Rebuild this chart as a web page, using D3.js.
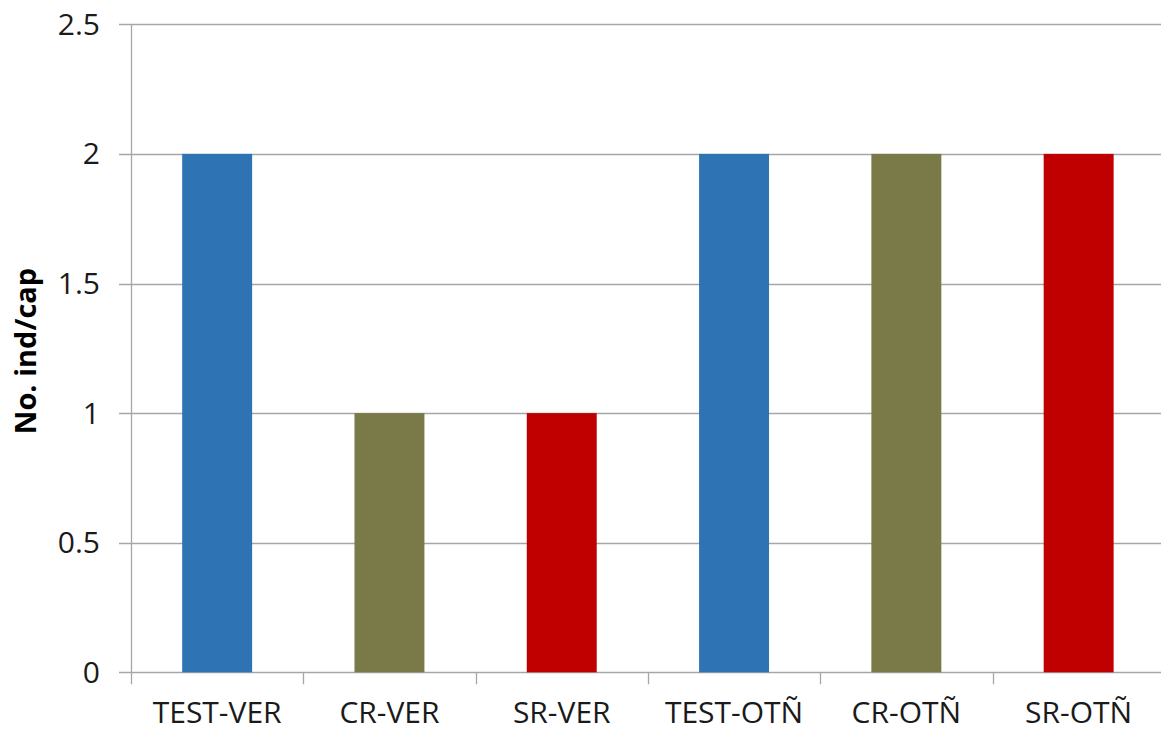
<!DOCTYPE html>
<html>
<head>
<meta charset="utf-8">
<script src="https://cdn.jsdelivr.net/npm/d3@7"></script>
<style>
  html, body { margin: 0; padding: 0; background: #fff; }
  svg { display: block; }
</style>
</head>
<body>
<svg id="chart" width="1161" height="732"></svg>
<script>
const categories = ["TEST-VER", "CR-VER", "SR-VER", "TEST-OTÑ", "CR-OTÑ", "SR-OTÑ"];
const values = [2, 1, 1, 2, 2, 2];
const barColors = ["#2E74B5", "#7A7A48", "#C00000", "#2E74B5", "#7A7A48", "#C00000"];
const yTicks = [0, 0.5, 1, 1.5, 2, 2.5];
const yLabel = "No. ind/cap";

(function () {
const svg = d3.select("#chart");
const pLeft = 131, pRight = 131 + 6 * 172.3, pTop = 24.3, pBottom = 672.3;
const font = "'Open Sans', 'Noto Sans', sans-serif";

const x = d3.scaleBand().domain(categories).range([pLeft, pRight]).paddingInner(0.594).paddingOuter(0.297);
const y = d3.scaleLinear().domain([0, 2.5]).range([pBottom, pTop]);

// gridlines
svg.append("g").selectAll("line").data(yTicks).join("line")
  .attr("x1", 119).attr("x2", pRight)
  .attr("y1", d => Math.round(y(d)) + 0.5).attr("y2", d => Math.round(y(d)) + 0.5)
  .attr("stroke", "#a6a6a6").attr("stroke-width", 1.3);

// bars
svg.append("g").selectAll("rect").data(values).join("rect")
  .attr("x", (d, i) => x(categories[i]))
  .attr("width", x.bandwidth())
  .attr("y", d => y(d))
  .attr("height", d => y(0) - y(d))
  .attr("fill", (d, i) => barColors[i]);

// y axis line
svg.append("line")
  .attr("x1", pLeft + 0.5).attr("x2", pLeft + 0.5)
  .attr("y1", pTop).attr("y2", pBottom)
  .attr("stroke", "#a6a6a6").attr("stroke-width", 1.3);

// x axis ticks (band boundaries)
const bounds = d3.range(categories.length + 1).map(i => pLeft + i * x.step());
svg.append("g").selectAll("line").data(bounds).join("line")
  .attr("x1", d => Math.round(d) + 0.5).attr("x2", d => Math.round(d) + 0.5)
  .attr("y1", pBottom).attr("y2", pBottom + 12)
  .attr("stroke", "#a6a6a6").attr("stroke-width", 1.3);

// y tick labels
svg.append("g").selectAll("text").data(yTicks).join("text")
  .attr("x", 100).attr("y", d => y(d))
  .attr("dy", "0.35em")
  .attr("text-anchor", "end")
  .attr("font-family", font).attr("font-size", 30)
  .attr("fill", "#1a1a1a")
  .text(d => d);

// x labels
svg.append("g").selectAll("text").data(categories).join("text")
  .attr("x", d => x(d) + x.bandwidth() / 2).attr("y", 723)
  .attr("text-anchor", "middle")
  .attr("font-family", font).attr("font-size", 30)
  .attr("fill", "#1a1a1a")
  .text(d => d);

// y axis title
svg.append("text")
  .attr("transform", `translate(36, 351) rotate(-90)`)
  .attr("text-anchor", "middle")
  .attr("font-family", font).attr("font-size", 29).attr("font-weight", "bold")
  .attr("fill", "#000")
  .text(yLabel);
})();
</script>
</body>
</html>
